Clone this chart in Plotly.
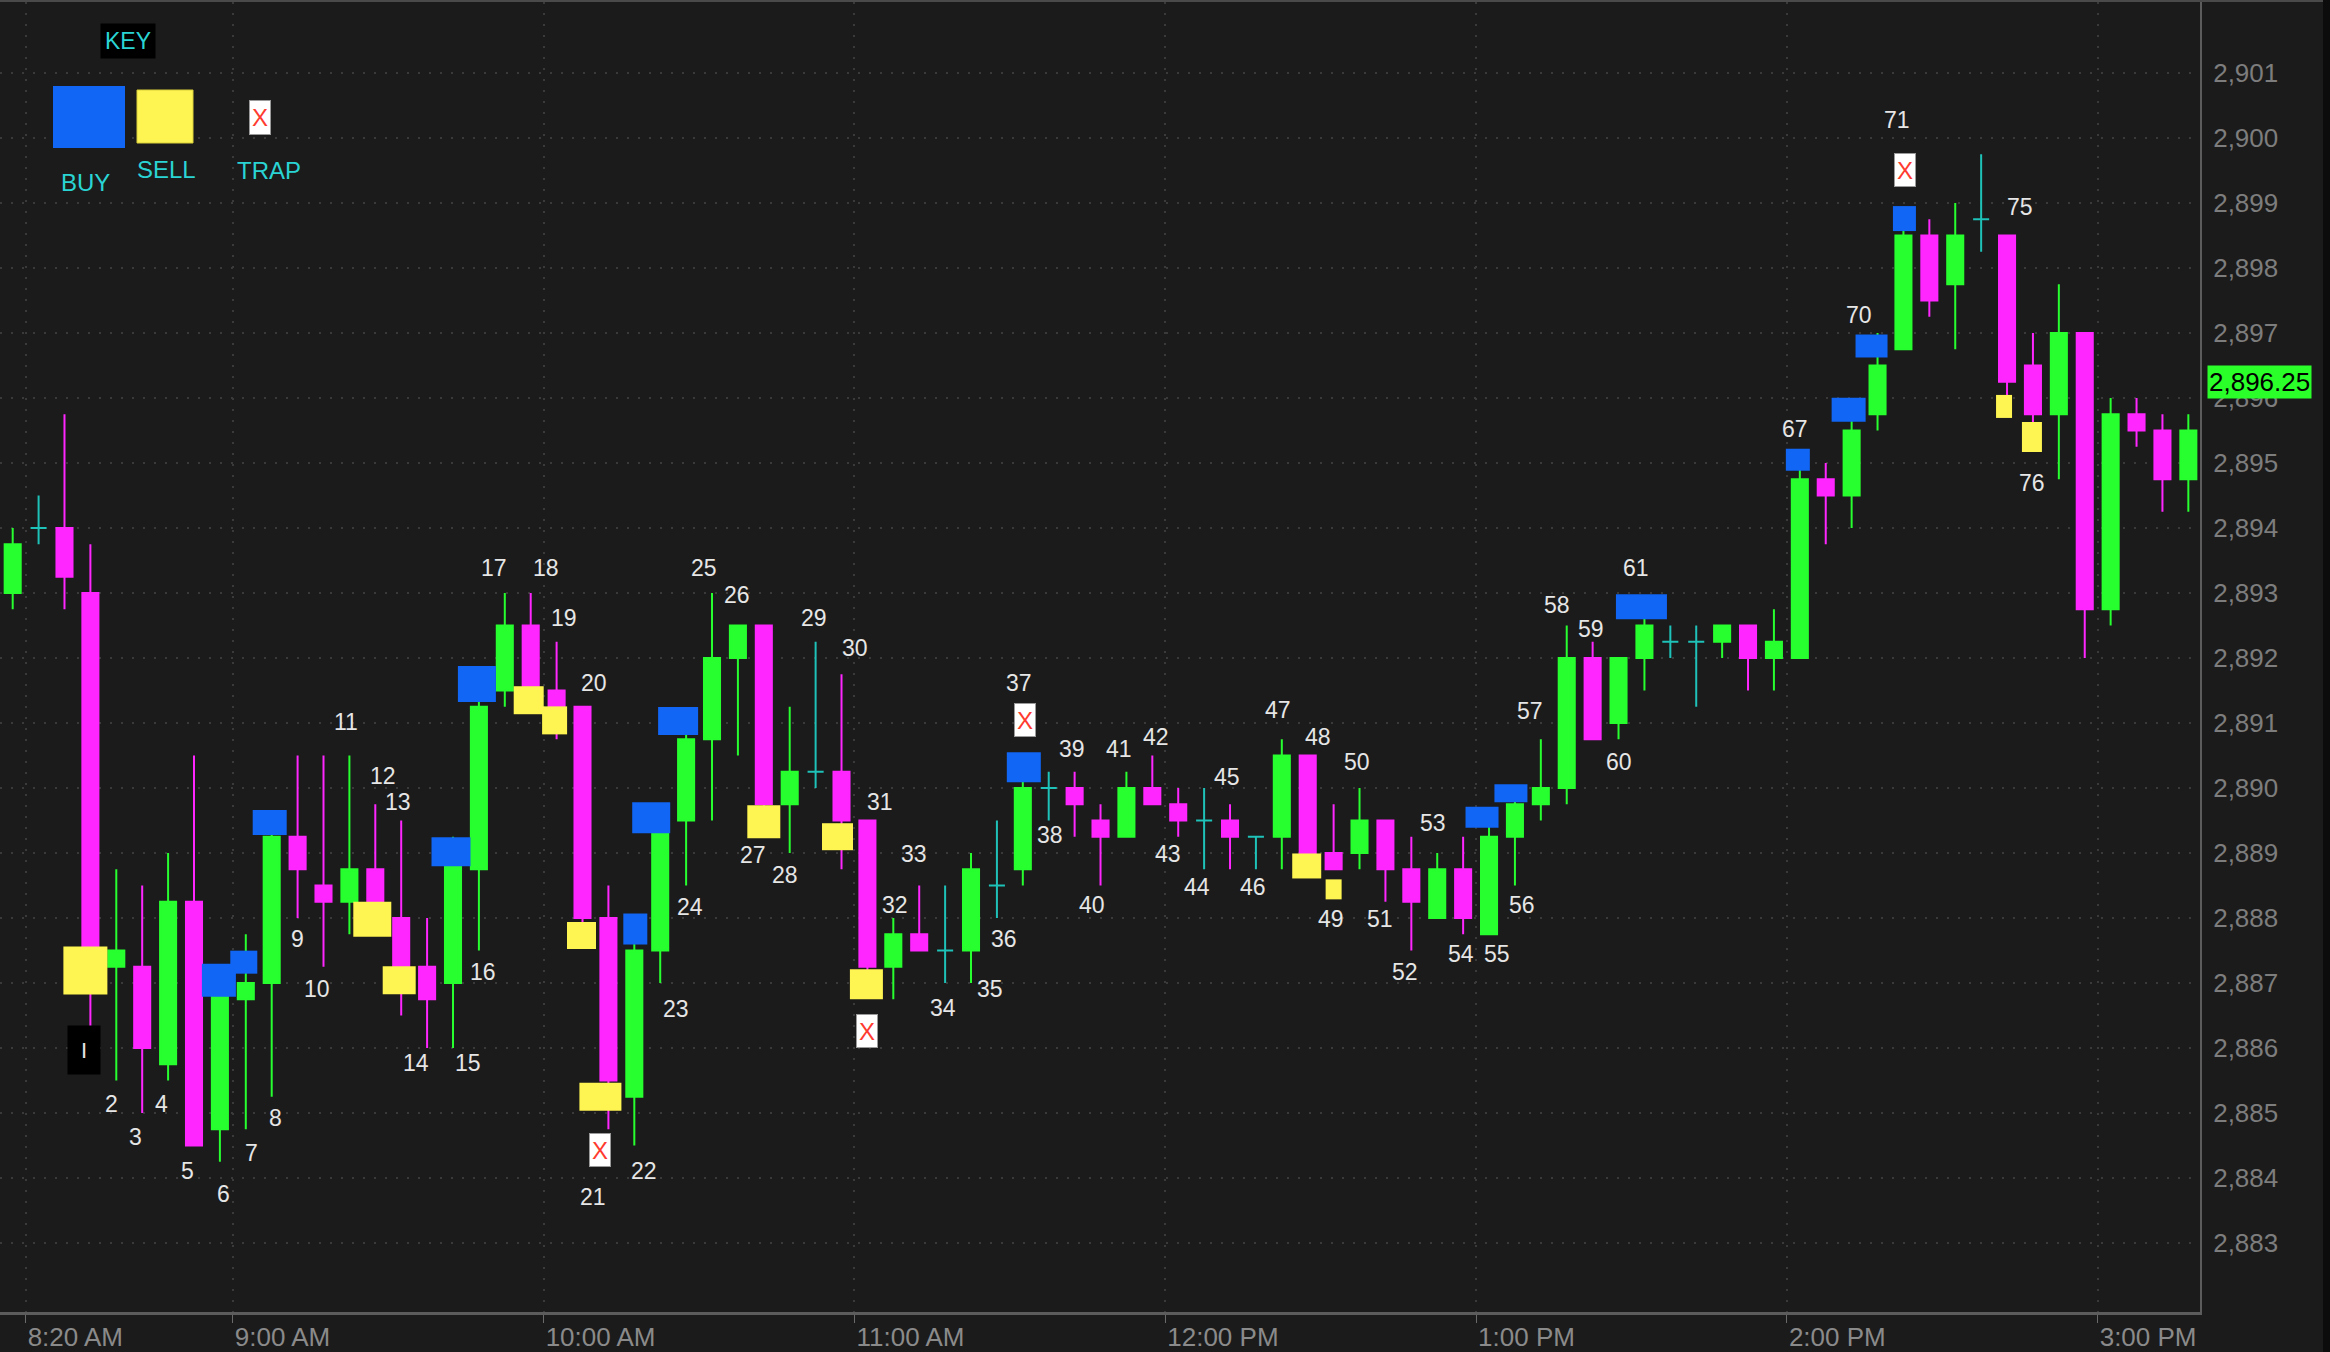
import plotly.graph_objects as go
from datetime import datetime, timedelta

# ---------------- data ----------------
OPEN = [2893.0, 2894.0, 2894.0, 2893.0, 2887.25, 2887.25, 2885.75, 2888.25, 2884.75, 2886.75,
        2887.0, 2889.25, 2888.5, 2888.25, 2888.75, 2888.0, 2887.25, 2887.0, 2888.75, 2891.5,
        2892.5, 2891.5, 2891.25, 2888.0, 2885.25, 2887.5, 2889.5, 2890.75, 2892.0, 2892.5,
        2889.75, 2890.25, 2890.25, 2889.5, 2887.25, 2887.75, 2887.5, 2887.5, 2888.5, 2888.75,
        2890.0, 2890.0, 2889.5, 2889.25, 2890.0, 2889.75, 2889.5, 2889.5, 2889.25, 2889.25,
        2890.5, 2889.0, 2889.0, 2889.5, 2888.75, 2888.0, 2888.75, 2887.75, 2889.25, 2889.75,
        2890.0, 2892.0, 2891.0, 2892.0, 2892.25, 2892.25, 2892.25, 2892.5, 2892.0, 2892.0,
        2894.75, 2894.5, 2895.75, 2896.75, 2898.5, 2897.75, 2898.75, 2898.5, 2896.5, 2895.75,
        2897.0, 2892.75, 2895.75, 2895.5, 2894.75]
HIGH = [2894.0, 2894.5, 2895.75, 2893.75, 2888.75, 2888.5, 2889.0, 2890.5, 2887.25, 2887.75,
        2889.5, 2890.5, 2890.5, 2890.5, 2889.75, 2889.5, 2888.0, 2889.25, 2891.5, 2893.0,
        2893.0, 2892.25, 2891.25, 2888.5, 2887.75, 2889.75, 2891.0, 2893.0, 2892.5, 2892.5,
        2891.25, 2892.25, 2891.75, 2889.5, 2888.0, 2888.5, 2888.5, 2889.0, 2889.5, 2890.25,
        2890.25, 2890.25, 2889.75, 2890.25, 2890.5, 2890.0, 2890.0, 2889.75, 2889.25, 2890.75,
        2890.5, 2889.75, 2890.0, 2889.5, 2889.25, 2889.0, 2889.25, 2889.5, 2890.0, 2890.75,
        2892.5, 2892.25, 2892.0, 2892.75, 2892.5, 2892.5, 2892.5, 2892.5, 2892.75, 2895.0,
        2895.0, 2895.75, 2897.0, 2898.75, 2898.75, 2899.0, 2899.75, 2898.5, 2897.0, 2897.75,
        2897.0, 2896.0, 2896.0, 2895.75, 2895.75]
LOW = [2892.75, 2893.75, 2892.75, 2886.25, 2885.5, 2885.0, 2885.5, 2884.5, 2884.25, 2884.75,
       2885.25, 2888.0, 2887.25, 2887.75, 2887.75, 2886.5, 2886.0, 2886.0, 2887.5, 2891.25,
       2891.25, 2890.75, 2887.75, 2884.75, 2884.5, 2887.0, 2888.5, 2889.5, 2890.5, 2889.5,
       2889.0, 2890.0, 2888.75, 2887.0, 2886.75, 2887.5, 2887.0, 2887.0, 2888.0, 2888.5,
       2889.5, 2889.25, 2888.5, 2889.25, 2889.75, 2889.25, 2888.75, 2888.75, 2888.75, 2888.75,
       2888.75, 2888.75, 2888.75, 2888.25, 2887.5, 2888.0, 2887.75, 2887.75, 2888.5, 2889.5,
       2889.75, 2890.75, 2890.75, 2891.5, 2892.0, 2891.25, 2892.0, 2891.5, 2891.5, 2892.0,
       2893.75, 2894.0, 2895.5, 2896.75, 2897.25, 2896.75, 2898.25, 2896.0, 2895.5, 2894.75,
       2892.0, 2892.5, 2895.25, 2894.25, 2894.25]
CLOSE = [2893.75, 2894.0, 2893.25, 2887.25, 2887.5, 2886.0, 2888.25, 2884.5, 2887.0, 2887.0,
         2889.25, 2888.75, 2888.25, 2888.75, 2888.0, 2887.25, 2886.75, 2889.0, 2891.25, 2892.5,
         2891.5, 2891.25, 2888.0, 2885.5, 2887.5, 2889.75, 2890.75, 2892.0, 2892.5, 2889.75,
         2890.25, 2890.25, 2889.5, 2887.25, 2887.75, 2887.5, 2887.5, 2888.75, 2888.5, 2890.0,
         2890.0, 2889.75, 2889.25, 2890.0, 2889.75, 2889.5, 2889.5, 2889.25, 2889.25, 2890.5,
         2889.0, 2888.75, 2889.5, 2888.75, 2888.25, 2888.75, 2888.0, 2889.25, 2889.75, 2890.0,
         2892.0, 2890.75, 2892.0, 2892.5, 2892.25, 2892.25, 2892.5, 2892.0, 2892.25, 2894.75,
         2894.5, 2895.5, 2896.5, 2898.5, 2897.5, 2898.5, 2898.75, 2896.25, 2895.75, 2897.0,
         2892.75, 2895.75, 2895.5, 2894.75, 2895.5]

TICK_TIMES = ["08:20", "09:00", "10:00", "11:00", "12:00", "13:00", "14:00", "15:00"]
TICK_TEXT = ["8:20 AM", "9:00 AM", "10:00 AM", "11:00 AM", "12:00 PM", "1:00 PM", "2:00 PM", "3:00 PM"]
PRICE_TICKS = list(range(2883, 2902))
LAST_PRICE = 2896.25

# signals: bar index + price level
BUY_BAR = [8, 9, 10, 17, 18, 24, 25, 26, 39, 57, 58, 63, 69, 71, 72, 73]
BUY_PRICE = [2887.04, 2887.32, 2889.47, 2889.02, 2891.60, 2887.83, 2889.54, 2891.03,
             2890.32, 2889.55, 2889.92, 2892.79, 2895.05, 2895.82, 2896.80, 2898.76]
SELL_BAR = [3, 14, 15, 20, 21, 22, 23, 29, 32, 33, 50, 51, 77, 78]
SELL_PRICE = [2887.19, 2887.98, 2887.04, 2891.35, 2891.04, 2887.73, 2885.25, 2889.48,
              2889.25, 2886.98, 2888.80, 2888.44, 2895.87, 2895.40]
TRAP_BAR = [23, 33, 39, 73]
TRAP_PRICE = [2884.43, 2886.26, 2891.05, 2899.50]

# bar count labels
LABEL_NUM = [2, 3, 4, 5, 6, 7, 8, 9, 10, 11, 12, 13, 14, 15, 16, 17, 18, 19, 20, 21, 22, 23, 24, 25,
             26, 27, 28, 29, 30, 31, 32, 33, 34, 35, 36, 37, 38, 39, 40, 41, 42, 43, 44, 45, 46, 47,
             48, 49, 50, 51, 52, 53, 54, 55, 56, 57, 58, 59, 60, 61, 67, 70, 71, 75, 76]
LABEL_BAR = [4, 5, 6, 7, 8, 9, 10, 11, 12, 13, 14, 15, 16, 17, 18, 19, 20, 21, 22, 23, 24, 25, 26, 27,
             28, 29, 30, 31, 32, 33, 34, 35, 36, 37, 38, 39, 40, 41, 42, 43, 44, 45, 46, 47, 48, 49,
             50, 51, 52, 53, 54, 55, 56, 57, 58, 59, 60, 61, 62, 63, 69, 72, 73, 77, 78]
LABEL_PRICE = [2885.14, 2884.63, 2885.14, 2884.10, 2883.75, 2884.38, 2884.93, 2887.67, 2886.90,
               2891.02, 2890.19, 2889.79, 2885.77, 2885.77, 2887.17, 2893.38, 2893.38, 2892.61,
               2891.61, 2883.71, 2884.10, 2886.60, 2888.17, 2893.38, 2892.97, 2888.97, 2888.66,
               2892.61, 2892.16, 2889.78, 2888.20, 2888.98, 2886.61, 2886.90, 2887.67, 2891.61,
               2889.28, 2890.60, 2888.20, 2890.60, 2890.78, 2888.98, 2888.48, 2890.17, 2888.48,
               2891.20, 2890.78, 2887.98, 2890.40, 2887.98, 2887.17, 2889.46, 2887.45, 2887.45,
               2888.20, 2891.18, 2892.82, 2892.45, 2890.40, 2893.38, 2895.52, 2897.28, 2900.27,
               2898.94, 2894.69]
FIRST_LABEL = "I"
FIRST_LABEL_BAR = 3
FIRST_LABEL_PRICE = 2885.97

# ---------------- styles (pixel sizes / shifts) ----------------
BUY_W = [34, 27, 34, 39, 38, 24, 38, 40, 34, 33, 33, 51, 24, 34, 32, 23]
BUY_H = [33, 23, 25, 29, 36, 31, 31, 28, 30, 21, 18, 25, 22, 24, 23, 25]
BUY_DX = [-1, -2, -2, -2, -2, 1, -9, -8, 1, -7, -4, -3, -2, -3, -6, 1]
SELL_W = [44, 38, 33, 30, 25, 29, 42, 33, 31, 33, 29, 16, 16, 20]
SELL_H = [48, 35, 28, 28, 28, 27, 28, 33, 27, 30, 25, 20, 23, 30]
SELL_DX = [-5, -3, -2, -2, -2, -1, -8, 0, -4, -1, -1, 0, -3, -1]
TRAP_DX = [-8, 0, 2, 2]
LABEL_DX = [-5, -7, -7, -7, 4, 6, 4, 0, -7, -3, 8, -3, -11, 15, 4, -11, 15, 7, 11, -15, 10, 16, 4, -8,
            -1, -11, -5, -2, 13, 13, 2, -5, -2, 19, 7, -4, 1, -3, -9, -7, 4, -10, -7, -3, -3, -4,
            10, -3, -3, -5, -6, -4, -2, 8, 7, -11, -10, -2, 0, -8, -5, -19, -6, 13, -1]

GREEN = "#27ff2f"
MAGENTA = "#ff26ff"
CYAN = "#1fc2b8"
BLUE = "#1166f6"
YELLOW = "#fff552"
BG = "#1b1b1b"
GRID = "#3a3a3a"
FONT = "Liberation Sans, Arial, sans-serif"

DAY = "2019-03-01"
BASE = datetime(2019, 3, 1, 8, 17, 30)  # centre of the first 5-minute bar


def bar_time(pos):
    return BASE + timedelta(minutes=5 * pos)


def tstr(pos):
    return bar_time(pos).strftime("%Y-%m-%d %H:%M:%S")


n = len(OPEN)
times = [tstr(k) for k in range(n)]
doji = [k for k in range(n) if OPEN[k] == CLOSE[k]]
body = [k for k in range(n) if OPEN[k] != CLOSE[k]]

fig = go.Figure()
fig.add_trace(go.Candlestick(
    x=[times[k] for k in body], open=[OPEN[k] for k in body], high=[HIGH[k] for k in body],
    low=[LOW[k] for k in body], close=[CLOSE[k] for k in body],
    increasing=dict(line=dict(color=GREEN, width=2), fillcolor=GREEN),
    decreasing=dict(line=dict(color=MAGENTA, width=2), fillcolor=MAGENTA),
    whiskerwidth=0, hoverinfo="skip", showlegend=False))
fig.add_trace(go.Candlestick(
    x=[times[k] for k in doji], open=[OPEN[k] for k in doji], high=[HIGH[k] for k in doji],
    low=[LOW[k] for k in doji], close=[CLOSE[k] for k in doji],
    increasing=dict(line=dict(color=CYAN, width=2), fillcolor=CYAN),
    decreasing=dict(line=dict(color=CYAN, width=2), fillcolor=CYAN),
    whiskerwidth=0, hoverinfo="skip", showlegend=False))

shapes = []
for b, p, w, h, dx in zip(BUY_BAR, BUY_PRICE, BUY_W, BUY_H, BUY_DX):
    shapes.append(dict(type="rect", xref="x", yref="y", xsizemode="pixel", ysizemode="pixel",
                       xanchor=tstr(b), yanchor=p, x0=dx - w / 2, x1=dx + w / 2, y0=-h / 2, y1=h / 2,
                       fillcolor=BLUE, line=dict(width=0), layer="above"))
for b, p, w, h, dx in zip(SELL_BAR, SELL_PRICE, SELL_W, SELL_H, SELL_DX):
    shapes.append(dict(type="rect", xref="x", yref="y", xsizemode="pixel", ysizemode="pixel",
                       xanchor=tstr(b), yanchor=p, x0=dx - w / 2, x1=dx + w / 2, y0=-h / 2, y1=h / 2,
                       fillcolor=YELLOW, line=dict(width=0), layer="above"))

PW, PH, MT = 2200.0, 1310.0, 2.0


def px(x):
    return x / PW


def py(y):
    return 1 - (y - MT) / PH


# legend (key) squares
shapes.append(dict(type="rect", xref="paper", yref="paper", x0=px(53), x1=px(125), y0=py(148), y1=py(86),
                   fillcolor=BLUE, line=dict(width=0)))
shapes.append(dict(type="rect", xref="paper", yref="paper", x0=px(137), x1=px(193), y0=py(143), y1=py(90),
                   fillcolor=YELLOW, line=dict(color="#d8cf3a", width=1)))
# top border and dark right strip
shapes.append(dict(type="line", xref="paper", yref="paper", x0=0, x1=px(2323), y0=py(1), y1=py(1),
                   line=dict(color="#4a4a4a", width=2)))
shapes.append(dict(type="rect", xref="paper", yref="paper", x0=px(2323), x1=px(2331), y0=py(1352), y1=py(0),
                   fillcolor="#0c0c0c", line=dict(width=0)))

C = dict(xanchor="center", yanchor="middle", showarrow=False)
ann = []
for num, b, p, dx in zip(LABEL_NUM, LABEL_BAR, LABEL_PRICE, LABEL_DX):
    ann.append(dict(x=tstr(b), y=p, xref="x", yref="y", xshift=dx, text=str(num),
                    font=dict(family=FONT, size=23, color="#e6e6e6"), **C))
ann.append(dict(x=tstr(FIRST_LABEL_BAR), y=FIRST_LABEL_PRICE, xref="x", yref="y", xshift=-6,
                text=FIRST_LABEL, bgcolor="#000000", width=32, height=48, borderpad=0,
                font=dict(family=FONT, size=22, color="#e6e6e6"), **C))
for b, p, dx in zip(TRAP_BAR, TRAP_PRICE, TRAP_DX):
    ann.append(dict(x=tstr(b), y=p, xref="x", yref="y", xshift=dx, text="X",
                    bgcolor="#ffffff", bordercolor="#9a9a9a", borderwidth=1, borderpad=0,
                    width=20, height=32, font=dict(family=FONT, size=24, color="#ff3b30"), **C))
# key
ann.append(dict(x=px(128), y=py(41), xref="paper", yref="paper", text="KEY",
                bgcolor="#000000", width=54, height=34, borderpad=0,
                font=dict(family=FONT, size=23, color="#2ad4d4"), **C))
ann.append(dict(x=px(260), y=py(117.5), xref="paper", yref="paper", text="X",
                bgcolor="#ffffff", bordercolor="#9a9a9a", borderwidth=1, borderpad=0, width=20, height=33,
                font=dict(family=FONT, size=24, color="#ff3b30"), **C))
for txt, cx, cy in [("BUY", 85, 182), ("SELL", 166, 169), ("TRAP", 269, 170)]:
    ann.append(dict(x=px(cx), y=py(cy), xref="paper", yref="paper", text=txt,
                    font=dict(family=FONT, size=24, color="#2ad4d4"), **C))
# last price tag
ann.append(dict(x=px(2207), y=LAST_PRICE, xref="paper", yref="y", xanchor="left", yanchor="middle",
                text=f"{LAST_PRICE:,.2f}", showarrow=False, bgcolor="#2aff2a", borderpad=1,
                font=dict(family=FONT, size=26, color="#000000")))

XR = [tstr(-0.49), tstr(84.45)]
fig.update_layout(
    width=2330, height=1352,
    margin=dict(l=0, r=130, t=2, b=40),
    paper_bgcolor=BG, plot_bgcolor=BG,
    showlegend=False, boxgap=0.38, boxgroupgap=0, boxmode="overlay",
    shapes=shapes, annotations=ann, hovermode=False,
    xaxis=dict(type="date", range=XR, rangeslider=dict(visible=False),
               tickmode="array", tickvals=[f"{DAY} {t}" for t in TICK_TIMES], ticktext=TICK_TEXT,
               ticks="outside", ticklen=8, tickwidth=1, tickcolor="#6a6a6a",
               ticklabelposition="outside right",
               tickfont=dict(family=FONT, size=26, color="#8a8a8a"),
               showgrid=True, gridcolor=GRID, gridwidth=2, griddash="2px,9px",
               showline=True, linecolor="#5c5c5c", linewidth=3, zeroline=False, fixedrange=True),
    yaxis=dict(side="right", range=[2881.938, 2902.092], tickmode="array", tickvals=PRICE_TICKS,
               tickformat=",", ticks="", ticklabelstandoff=6,
               tickfont=dict(family=FONT, size=26, color="#7d7d7d"),
               showgrid=True, gridcolor=GRID, gridwidth=2, griddash="2px,9px",
               showline=True, linecolor="#5c5c5c", linewidth=2, zeroline=False, fixedrange=True),
)

fig.write_html("out.html", config={"displayModeBar": False},
               post_script="document.body.style.margin='0px';document.body.style.overflow='hidden';")
